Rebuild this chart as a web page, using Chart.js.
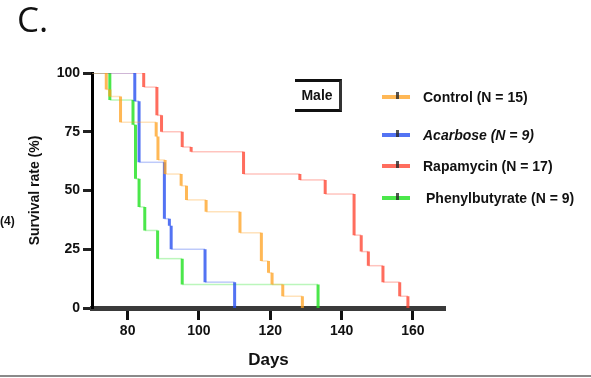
<!DOCTYPE html>
<html lang="en">
  <head>
    <meta charset="UTF-8" />
    <title>Survival - Male</title>
    <script src="https://cdn.jsdelivr.net/npm/chart.js@4.4.1/dist/chart.umd.min.js"></script>
    <style>
      body {
        margin: 0;
        background: #ffffff;
        font-family: "Liberation Sans", Arial, sans-serif;
        color: #111;
      }

      .figure {
        position: relative;
        width: 591px;
        height: 378px;
        overflow: hidden;
      }

      .chart-container {
        position: absolute;
        left: 0;
        top: 0;
        width: 591px;
        height: 378px;
      }

      .panel-label {
        position: absolute;
        left: 17px;
        top: 1px;
        font-family: "Open Sans", sans-serif;
        font-size: 35px;
        line-height: 35px;
      }

      .side-label {
        position: absolute;
        left: 0;
        top: 214px;
        font-size: 12px;
        font-weight: bold;
        line-height: 14px;
      }

      .sex-box {
        position: absolute;
        left: 295px;
        top: 79px;
        width: 44px;
        height: 27px;
        border-top: 3px solid #111;
        border-right: 3px solid #333;
        border-bottom: 3px solid #111;
        font-size: 14px;
        font-weight: bold;
        line-height: 27px;
        text-align: center;
      }

      .legend-row {
        position: absolute;
        left: 382px;
        height: 16px;
        width: 209px;
      }

      .legend-line {
        position: absolute;
        left: 0;
        top: 6px;
        width: 28px;
        height: 4px;
      }

      .legend-tick {
        position: absolute;
        left: 14px;
        top: 3px;
        width: 3px;
        height: 7px;
        background: rgba(40, 40, 40, 0.8);
      }

      .legend-text {
        position: absolute;
        left: 41px;
        top: 0;
        font-size: 14px;
        font-weight: bold;
        line-height: 16px;
        white-space: nowrap;
      }

      .bottom-rule {
        position: absolute;
        left: 0;
        top: 375px;
        width: 591px;
        height: 2px;
        background: #8a8a8a;
      }
    </style>
  </head>
  <body>
    <div class="figure">
      <div class="chart-container">
        <canvas id="survivalChart"></canvas>
      </div>

      <div class="panel-label">C.</div>
      <div class="side-label">(4)</div>
      <div class="sex-box">Male</div>

      <div class="legend-row" style="top: 89px">
        <div class="legend-line" id="line0"></div>
        <div class="legend-tick"></div>
        <div class="legend-text" id="text0"></div>
      </div>
      <div class="legend-row" style="top: 127px">
        <div class="legend-line" id="line1"></div>
        <div class="legend-tick"></div>
        <div class="legend-text" id="text1" style="font-style: italic"></div>
      </div>
      <div class="legend-row" style="top: 158px">
        <div class="legend-line" id="line2"></div>
        <div class="legend-tick"></div>
        <div class="legend-text" id="text2"></div>
      </div>
      <div class="legend-row" style="top: 190px">
        <div class="legend-line" id="line3"></div>
        <div class="legend-tick"></div>
        <div class="legend-text" id="text3" style="left: 44px"></div>
      </div>

      <div class="bottom-rule"></div>
    </div>

    <script>
      // groups and axis ticks
      const groupNames = ["Control", "Acarbose", "Rapamycin", "Phenylbutyrate"];
      const groupN = [15, 9, 17, 9];
      const dayTicks = [80, 100, 120, 140, 160];
      const survivalTicks = [0, 25, 50, 75, 100];

      // Kaplan-Meier curves: day of each event and survival (%) after it
      const controlDays = [0, 74, 75, 78, 88, 88.5, 90.5, 95, 96.5, 102, 111.5, 117.5, 119.5, 120.5, 123.5, 129];
      const controlSurvival = [100, 93, 90, 79, 73, 63, 57, 52, 46, 41, 32, 20, 15, 10, 5, 0];

      const acarboseDays = [0, 82, 83.2, 90.3, 91.7, 92.2, 101.7, 110];
      const acarboseSurvival = [100, 88, 62, 38, 35, 25, 11, 0];

      const rapamycinDays = [0, 84.5, 88.2, 89.5, 95.3, 97.8, 112.5, 128.3, 135.4, 143.5, 145.5, 147.5, 151.6, 156.3, 158.6];
      const rapamycinSurvival = [100, 94, 82, 75, 68.5, 66.5, 57, 54.5, 48.5, 31, 24, 18, 11, 5, 0];

      const phenylDays = [0, 75, 81.5, 82.2, 83.2, 84.8, 88.4, 95.3, 133.4];
      const phenylSurvival = [100, 88.5, 78, 55, 43, 33, 21, 10, 0];

      const colors = [
        "rgba(255, 160, 30, 0.75)",
        "rgba(40, 80, 240, 0.8)",
        "rgba(255, 60, 40, 0.75)",
        "rgba(30, 225, 30, 0.8)",
      ];
      const fadedColors = [
        "rgba(255, 160, 30, 0.3)",
        "rgba(40, 80, 240, 0.3)",
        "rgba(255, 60, 40, 0.3)",
        "rgba(30, 225, 30, 0.3)",
      ];

      // turn event lists into step corners
      function kmPoints(days, surv) {
        const pts = [{ x: days[0], y: surv[0] }];
        for (let i = 1; i < days.length; i++) {
          pts.push({ x: days[i], y: surv[i - 1] });
          pts.push({ x: days[i], y: surv[i] });
        }
        return pts;
      }

      function makeDataset(i, days, surv) {
        return {
          label: groupNames[i] + " (N = " + groupN[i] + ")",
          data: kmPoints(days, surv),
          borderColor: colors[i],
          borderWidth: 3,
          pointRadius: 0,
          fill: false,
          segment: {
            // drops are drawn solid, the flat parts only faintly
            borderWidth: (ctx) => (ctx.p0.parsed.x === ctx.p1.parsed.x ? 3 : 1.5),
            borderColor: (ctx) =>
              ctx.p0.parsed.x === ctx.p1.parsed.x ? colors[i] : fadedColors[i],
          },
        };
      }

      // legend
      groupNames.forEach((name, i) => {
        document.getElementById("line" + i).style.background = colors[i];
        document.getElementById("text" + i).textContent = name + " (N = " + groupN[i] + ")";
      });

      const tickFont = { family: "Liberation Sans", size: 14, weight: "bold" };

      const ctx = document.getElementById("survivalChart").getContext("2d");
      const survivalChart = new Chart(ctx, {
        type: "line",
        data: {
          datasets: [
            makeDataset(0, controlDays, controlSurvival),
            makeDataset(1, acarboseDays, acarboseSurvival),
            makeDataset(2, rapamycinDays, rapamycinSurvival),
            makeDataset(3, phenylDays, phenylSurvival),
          ],
        },
        options: {
          responsive: true,
          maintainAspectRatio: false,
          animation: false,
          layout: {
            padding: { left: 23, top: 73, right: 146, bottom: 0 },
          },
          scales: {
            x: {
              type: "linear",
              min: 70,
              max: 169,
              afterBuildTicks: (scale) => {
                scale.ticks = dayTicks.map((v) => ({ value: v }));
              },
              afterFit: (scale) => {
                scale.height = 70;
              },
              grid: {
                drawOnChartArea: false,
                tickLength: 12,
                tickWidth: 3,
                tickColor: "#111",
              },
              border: { color: "#3a3a3a", width: 5 },
              ticks: { font: tickFont, color: "#111", padding: 3, maxRotation: 0 },
              title: {
                display: true,
                text: "Days",
                font: { family: "Liberation Sans", size: 17, weight: "bold" },
                color: "#111",
                padding: { top: 2, bottom: 7 },
              },
            },
            y: {
              min: 0,
              max: 100,
              afterBuildTicks: (scale) => {
                scale.ticks = survivalTicks.map((v) => ({ value: v }));
              },
              afterFit: (scale) => {
                scale.width = 69;
              },
              grid: {
                drawOnChartArea: false,
                tickLength: 9,
                tickWidth: 3,
                tickColor: "#222",
              },
              border: { color: "#000", width: 3 },
              ticks: { font: tickFont, color: "#111", padding: 3 },
              title: {
                display: true,
                text: "Survival rate (%)",
                font: { family: "Liberation Sans", size: 14, weight: "bold" },
                color: "#111",
                padding: { top: 4, bottom: 4 },
              },
            },
          },
          plugins: {
            legend: { display: false },
            tooltip: { enabled: false },
          },
        },
      });
    </script>
  </body>
</html>
